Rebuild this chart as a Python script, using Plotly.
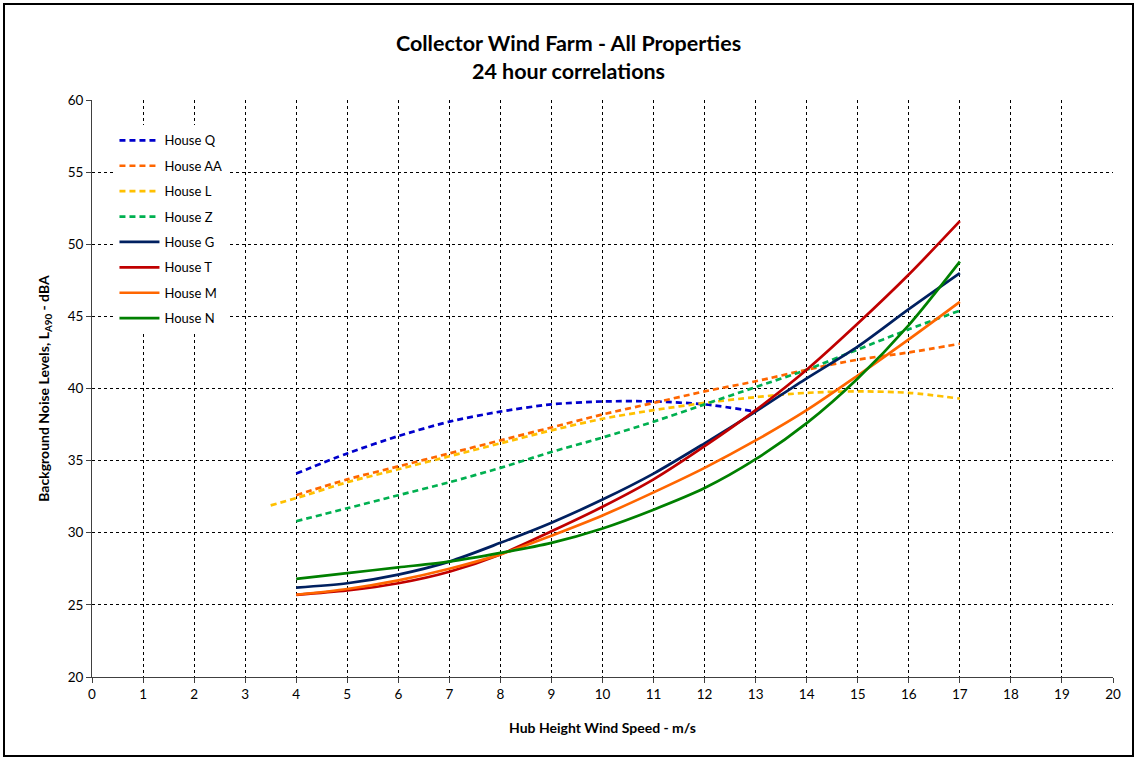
import plotly.graph_objects as go

x_q = [4, 5, 6, 7, 8, 9, 10, 11, 12, 13]
y_q = [34.1, 35.5, 36.7, 37.7, 38.4, 38.9, 39.1, 39.1, 38.9, 38.4]

x_std = [4, 5, 6, 7, 8, 9, 10, 11, 12, 13, 14, 15, 16, 17]
y_aa = [32.6, 33.7, 34.6, 35.5, 36.4, 37.3, 38.2, 39.0, 39.8, 40.5, 41.3, 42.0, 42.5, 43.1]
x_l = [3.5, 4, 5, 6, 7, 8, 9, 10, 11, 12, 13, 14, 15, 16, 17]
y_l = [31.9, 32.4, 33.5, 34.4, 35.3, 36.2, 37.1, 37.9, 38.5, 39.0, 39.4, 39.7, 39.8, 39.7, 39.3]
y_z = [30.8, 31.7, 32.6, 33.5, 34.5, 35.6, 36.6, 37.7, 38.9, 40.1, 41.3, 42.7, 44.1, 45.4]
y_g = [26.2, 26.5, 27.1, 28.0, 29.3, 30.7, 32.3, 34.1, 36.2, 38.4, 40.7, 42.9, 45.5, 48.0]
y_t = [25.7, 26.0, 26.5, 27.3, 28.5, 30.1, 31.8, 33.7, 36.0, 38.5, 41.3, 44.5, 47.9, 51.6]
y_m = [25.7, 26.1, 26.7, 27.5, 28.5, 29.8, 31.2, 32.8, 34.5, 36.4, 38.5, 40.9, 43.4, 46.0]
y_n = [26.8, 27.2, 27.6, 28.0, 28.6, 29.3, 30.3, 31.6, 33.1, 35.1, 37.6, 40.7, 44.4, 48.8]

x_ticks = list(range(0, 21))
y_ticks = list(range(20, 61, 5))

series = [
    ("House Q", x_q, y_q, "#0000CC", "dash"),
    ("House AA", x_std, y_aa, "#FF6600", "dash"),
    ("House L", x_l, y_l, "#FFC000", "dash"),
    ("House Z", x_std, y_z, "#00B050", "dash"),
    ("House G", x_std, y_g, "#002060", "solid"),
    ("House T", x_std, y_t, "#C00000", "solid"),
    ("House M", x_std, y_m, "#FF6600", "solid"),
    ("House N", x_std, y_n, "#008000", "solid"),
]

fig = go.Figure()
for i, (name, xs, ys, col, dash) in enumerate(series):
    fig.add_trace(go.Scatter(
        x=xs, y=ys, name=name, mode="lines",
        line=dict(color=col, width=2.7, dash="6px,4px" if dash == "dash" else "solid", shape="spline", smoothing=0.8),
        legendgroup=f"g{i}",
    ))

font_family = "Lato, 'Open Sans', sans-serif"

fig.update_layout(
    width=1137, height=760,
    margin=dict(l=92, r=24, t=100, b=83),
    paper_bgcolor="white", plot_bgcolor="white",
    font=dict(family=font_family, color="black", size=12),
    title=dict(
        text="<b>Collector Wind Farm - All Properties</b><br><b>24 hour correlations</b>",
        x=0.5, xanchor="center", y=0.933, yanchor="top",
        font=dict(size=21.5, family=font_family),
    ),
    showlegend=True,
    legend=dict(
        x=0.022, y=0.956, xanchor="left", yanchor="top",
        bgcolor="white", font=dict(size=13),
        tracegroupgap=5.5, itemwidth=40,
    ),
    xaxis=dict(
        range=[0, 20], tickvals=x_ticks, ticktext=[str(v) for v in x_ticks],
        showgrid=True, gridcolor="black", griddash="dot", gridwidth=1,
        showline=True, linecolor="#404040", linewidth=1, mirror=False,
        ticks="outside", ticklen=5, tickcolor="#404040",
        tickfont=dict(size=13.5), zeroline=False,
        title=dict(text="<b>Hub Height Wind Speed - m/s</b>", font=dict(size=14), standoff=21),
    ),
    yaxis=dict(
        range=[20, 60], tickvals=y_ticks, ticktext=[str(v) for v in y_ticks],
        showgrid=True, gridcolor="black", griddash="dot", gridwidth=1,
        showline=True, linecolor="#404040", linewidth=1,
        ticks="outside", ticklen=5, tickcolor="#404040",
        tickfont=dict(size=13.5), zeroline=False,
        title=dict(text="<b>Background Noise Levels, L<sub>A90</sub> - dBA</b>", font=dict(size=14), standoff=14),
    ),
)

# outer frame
fig.add_shape(type="rect", xref="paper", yref="paper",
              x0=(4 - 92) / 1021, x1=(1133 - 92) / 1021,
              y0=(677 - 756) / 577, y1=(677 - 4) / 577,
              line=dict(color="black", width=2), layer="below")

fig.write_html("out.html", config={"displayModeBar": False},
               post_script="document.body.style.margin='0';")
